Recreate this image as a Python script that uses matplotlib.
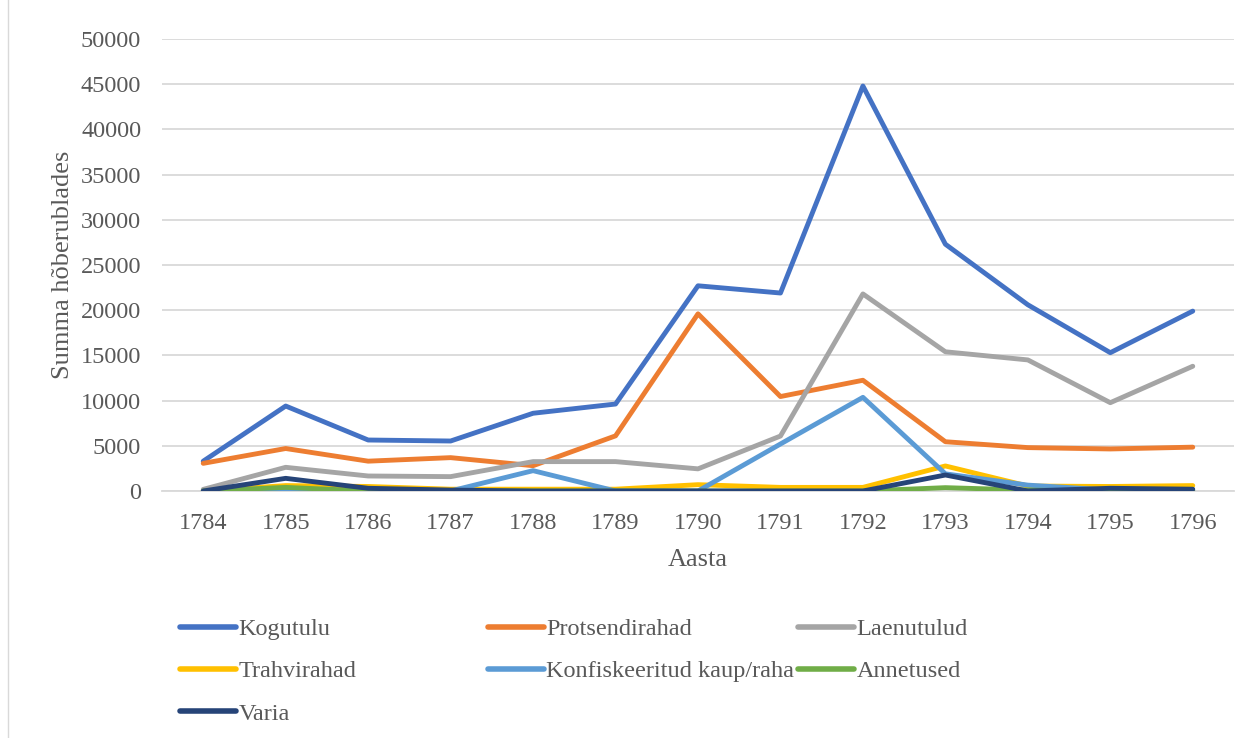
import matplotlib.pyplot as plt
from matplotlib.patches import Rectangle

years = ["1784", "1785", "1786", "1787", "1788", "1789", "1790",
         "1791", "1792", "1793", "1794", "1795", "1796"]

kogutulu = [3300, 9400, 5640, 5530, 8600, 9620, 22700, 21900, 44800, 27300, 20600, 15300, 19900]
protsendirahad = [3060, 4700, 3300, 3690, 2800, 6100, 19600, 10450, 12250, 5450, 4800, 4650, 4850]
laenutulud = [180, 2620, 1660, 1590, 3250, 3250, 2450, 6080, 21800, 15400, 14500, 9770, 13800]
trahvirahad = [0, 600, 500, 200, 200, 200, 700, 400, 400, 2770, 550, 500, 600]
konfiskeeritud = [0, 0, 0, 0, 2250, 0, 0, 5200, 10360, 1900, 650, 100, 50]
annetused = [0, 400, 0, 0, 0, 0, 0, 0, 0, 370, 100, 0, 0]
varia = [0, 1400, 300, 100, 0, 0, 0, 0, 0, 1770, 0, 300, 200]

series = [
    ("Kogutulu", kogutulu, "#4472C4"),
    ("Protsendirahad", protsendirahad, "#ED7D31"),
    ("Laenutulud", laenutulud, "#A5A5A5"),
    ("Trahvirahad", trahvirahad, "#FFC000"),
    ("Konfiskeeritud kaup/raha", konfiskeeritud, "#5B9BD5"),
    ("Annetused", annetused, "#70AD47"),
    ("Varia", varia, "#264478"),
]

plt.rcParams["font.family"] = ["Liberation Serif", "DejaVu Serif"]
txt = "#595959"
fs = 17.5

fig = plt.figure(figsize=(12.51, 7.38), dpi=100)
ax = fig.add_axes([162 / 1251, 1 - 491 / 738, (1234 - 162) / 1251, (491 - 39) / 738])

x = list(range(len(years)))
handles = []
for name, vals, color in series:
    h, = ax.plot(x, vals, color=color, linewidth=3.5, label=name,
                 solid_joinstyle="round", solid_capstyle="round", zorder=3)
    handles.append(h)

ax.set_xlim(-0.5, len(years) - 0.5)
ax.set_ylim(0, 50000)
ax.set_yticks(range(0, 50001, 5000))
ax.set_xticks(x)
ax.set_xticklabels(years)
ax.tick_params(axis="both", length=0, labelsize=fs, colors=txt)
ax.tick_params(axis="x", pad=16)
ax.tick_params(axis="y", pad=15)
ax.grid(axis="y", color="#d9d9d9", linewidth=1.3)
ax.set_axisbelow(True)
for s in ["top", "right", "left"]:
    ax.spines[s].set_visible(False)
ax.spines["bottom"].set_color("#d9d9d9")
ax.spines["bottom"].set_linewidth(1.3)

ax.set_xlabel("Aasta", fontsize=19, color=txt, labelpad=11)
ax.set_ylabel("Summa hõberublades", fontsize=19, color=txt, labelpad=5)

# legend in three fixed columns, row-major like the original
columns = [[0, 3, 6], [1, 4], [2, 5]]
col_x = [180, 488, 798]
for idx, cx in zip(columns, col_x):
    leg = fig.legend([handles[i] for i in idx], [series[i][0] for i in idx],
                     loc="upper left", bbox_to_anchor=(cx / 1251, 1 - 618 / 738),
                     frameon=False, fontsize=fs, handlelength=2.3,
                     handletextpad=0.1, labelspacing=0.84, borderpad=0,
                     borderaxespad=0, labelcolor=txt)
    for line in leg.get_lines():
        line.set_linewidth(4)

fig.patches.append(Rectangle((8 / 1251, -0.01), 1.1, 1.1, transform=fig.transFigure,
                             fill=False, edgecolor="#d9d9d9", linewidth=1.0))

fig.savefig("out.png", dpi=100)
